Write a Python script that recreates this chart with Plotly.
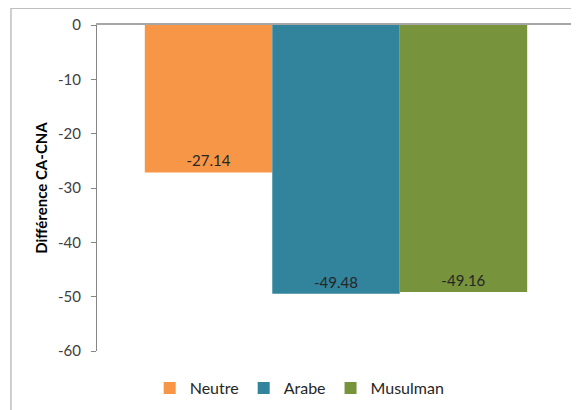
import plotly.graph_objects as go

groups = ["Neutre", "Arabe", "Musulman"]
values = [-27.14, -49.48, -49.16]
colors = ["#F79646", "#31849B", "#77933C"]
y_ticks = [0, -10, -20, -30, -40, -50, -60]

font_family = "Lato, 'Open Sans', sans-serif"

fig = go.Figure()
for name, value, color in zip(groups, values, colors):
    fig.add_trace(
        go.Bar(
            x=["CA-CNA"],
            y=[value],
            name=name,
            marker={"color": color, "line": {"width": 0}},
            text=[f"{value:.2f}"],
            textposition="inside",
            insidetextanchor="end",
            textangle=0,
            constraintext="none",
            textfont={"size": 15, "color": "#262626", "family": font_family},
        )
    )

# the page body adds 8px around the figure, margins are set for that
fig.update_layout(
    width=579,
    height=410,
    margin={"l": 89, "r": 12, "t": 17, "b": 67, "autoexpand": False},
    paper_bgcolor="white",
    plot_bgcolor="white",
    barmode="group",
    bargap=0.2,
    bargroupgap=0,
    font={"family": font_family, "color": "#404040"},
    showlegend=True,
    legend={
        "orientation": "h",
        "x": 0.424,
        "xanchor": "center",
        "y": -0.062,
        "yanchor": "top",
        "font": {"size": 16, "color": "#262626"},
        "traceorder": "normal",
        "itemwidth": 30,
    },
    shapes=[
        {
            "type": "rect",
            "xref": "paper",
            "yref": "paper",
            "x0": -0.18,
            "x1": 1.08,
            "y0": -0.3,
            "y1": 1.051,
            "line": {"color": "#BFBFBF", "width": 1.5},
            "fillcolor": "rgba(0,0,0,0)",
            "layer": "below",
        }
    ],
)

fig.update_xaxes(
    side="top",
    automargin=False,
    showline=True,
    linecolor="#A6A6A6",
    linewidth=1.5,
    showticklabels=False,
    ticks="",
    showgrid=False,
    zeroline=False,
)

fig.update_yaxes(
    range=[-60, 0],
    automargin=False,
    tickvals=y_ticks,
    ticktext=[str(t) for t in y_ticks],
    ticks="outside",
    ticklen=5,
    tickcolor="#868686",
    tickfont={"size": 15, "color": "#404040"},
    ticklabelstandoff=7,
    showline=True,
    linecolor="#868686",
    linewidth=1,
    showgrid=False,
    zeroline=False,
    title={
        "text": "<b>Différence CA-CNA</b>",
        "font": {"size": 15, "color": "#000000"},
        "standoff": 6,
    },
)

fig.write_html("out.html")
